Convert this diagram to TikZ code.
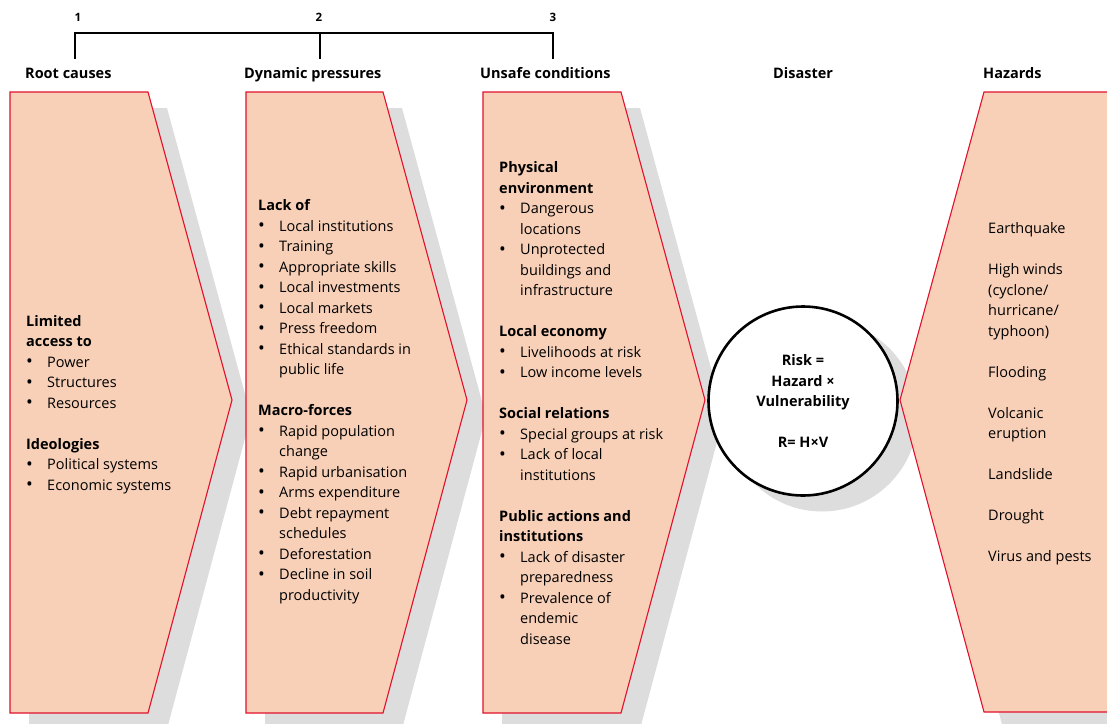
\documentclass[tikz,border=0pt]{standalone}
\usepackage{fontspec}
\setmainfont{Open Sans}
\usetikzlibrary{backgrounds}

\definecolor{boxfill}{RGB}{248,208,184}
\definecolor{boxline}{RGB}{226,16,44}
\definecolor{shadowgray}{RGB}{221,221,221}

\newcommand{\bul}{\makebox[21pt][l]{\raisebox{-0.6pt}{\fontsize{18}{20.5}\selectfont\textbullet}}}
\newcommand{\ind}{\hspace*{21pt}}

\begin{document}
\begin{tikzpicture}[
  x=1pt, y=-1pt,
  chevron/.style={draw=boxline, fill=boxfill, line width=1.1pt, line join=miter},
  shade/.style={fill=shadowgray, draw=none},
  heading/.style={anchor=base west, inner sep=0pt, font=\bfseries\fontsize{14.5}{20.5}\selectfont},
  number/.style={anchor=base, inner sep=0pt, font=\bfseries\fontsize{11.5}{13}\selectfont},
  block/.style={anchor=north west, inner sep=0pt, align=left, font=\fontsize{14.5}{20.5}\selectfont},
]
\useasboundingbox (0,0) rectangle (1107,723);
\clip (0,0) rectangle (1107,723);
%-------------------------------------------------------------
% Bracket over the first three stages
\node[number] (n1) at (78,21) {1};
\node[number] (n2) at (319,21) {2};
\node[number] (n3) at (553,21) {3};
\coordinate (b1) at (75,33);
\coordinate (b2) at (320,33);
\coordinate (b3) at (553,33);
\coordinate (t1) at (75,59);
\coordinate (t2) at (320,59);
\coordinate (t3) at (553,59);
\draw[line width=1.1pt] (t1) -- (b1) -- (b3) -- (t3);
\draw[line width=1.1pt] (b2) -- (t2);

%-------------------------------------------------------------
% Stage headings
\node[heading] (root)    at (25,78)  {Root causes};
\node[heading] (dynamic) at (244,78) {Dynamic pressures};
\node[heading] (unsafe)  at (480,78) {Unsafe conditions};
\node[heading] (disaster) at (773,78) {Disaster};
\node[heading] (hazards) at (983,78) {Hazards};

%-------------------------------------------------------------
% Chevrons
\draw[chevron] (10,92) -- (148,92) -- (232,400) -- (148,713) -- (10,713) -- cycle;
\draw[chevron] (246,92) -- (383,92) -- (467,400) -- (383,713) -- (246,713) -- cycle;
\draw[chevron] (483,92) -- (621,92) -- (705,400) -- (621,713) -- (483,713) -- cycle;
\draw[chevron] (1110,92) -- (984,92) -- (900,400) -- (984,712) -- (1110,712) -- cycle;
\node[circle, draw=black, fill=white, line width=2.6pt, minimum size=189pt, inner sep=0pt,
  align=center, font=\bfseries\fontsize{14.5}{20.5}\selectfont] (risk) at (803,401)
  {Risk =\\ Hazard ×\\ Vulnerability\\[20.5pt] R= H×V};

%-------------------------------------------------------------
% Texts
\node[block] (rootT) at (26,315) {\textbf{Limited}\\ \textbf{access to}\\
  \bul Power\\ \bul Structures\\ \bul Resources\\[20.5pt]
  \textbf{Ideologies}\\ \bul Political systems\\ \bul Economic systems};

\node[block] (dynamicT) at (258,199.5) {\textbf{Lack of}\\
  \bul Local institutions\\ \bul Training\\ \bul Appropriate skills\\
  \bul Local investments\\ \bul Local markets\\ \bul Press freedom\\
  \bul Ethical standards in\\ \ind public life\\[20.5pt]
  \textbf{Macro-forces}\\
  \bul Rapid population\\ \ind change\\ \bul Rapid urbanisation\\
  \bul Arms expenditure\\ \bul Debt repayment\\ \ind schedules\\
  \bul Deforestation\\ \bul Decline in soil\\ \ind productivity};

\node[block] (unsafeT) at (499,161.5) {\textbf{Physical}\\ \textbf{environment}\\
  \bul Dangerous\\ \ind locations\\ \bul Unprotected\\ \ind buildings and\\
  \ind infrastructure\\[20.5pt]
  \textbf{Local economy}\\ \bul Livelihoods at risk\\ \bul Low income levels\\[20.5pt]
  \textbf{Social relations}\\ \bul Special groups at risk\\ \bul Lack of local\\
  \ind institutions\\[20.5pt]
  \textbf{Public actions and}\\ \textbf{institutions}\\
  \bul Lack of disaster\\ \ind preparedness\\ \bul Prevalence of\\
  \ind endemic\\ \ind disease};

\node[block] (hazardsT) at (988,222.5) {Earthquake\\[20.5pt]
  High winds\\ (cyclone/\\ hurricane/\\ typhoon)\\[20.5pt]
  Flooding\\[20.5pt] Volcanic\\ eruption\\[20.5pt]
  Landslide\\[20.5pt] Drought\\[20.5pt] Virus and pests};

%-------------------------------------------------------------
% Drop shadows
\begin{pgfonlayer}{background}
  \fill[shade] (29,108) -- (167,108) -- (251,416) -- (167,729) -- (29,729) -- cycle;
  \fill[shade] (265,108) -- (402,108) -- (486,416) -- (402,729) -- (265,729) -- cycle;
  \fill[shade] (502,108) -- (640,108) -- (724,416) -- (640,729) -- (502,729) -- cycle;
  \fill[shade] (1129,108) -- (1003,108) -- (919,416) -- (1003,728) -- (1129,728) -- cycle;
  \fill[shade] (822,416) circle (95.5);
\end{pgfonlayer}

\end{tikzpicture}
\end{document}
